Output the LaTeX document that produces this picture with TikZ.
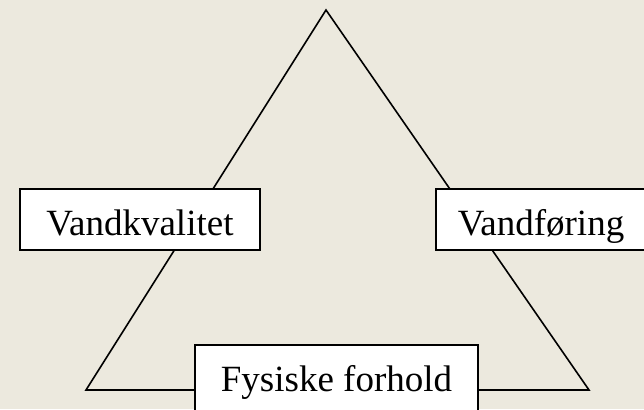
\documentclass[tikz,border=0pt]{standalone}
\usepackage{fontspec}
\setmainfont{Liberation Serif}
\definecolor{bgbeige}{HTML}{ECE9DE}
\begin{document}
\begin{tikzpicture}[x=1pt,y=-1pt,
  box/.style={draw=black, line width=1.8pt, fill=white, rectangle, inner sep=0pt,
    text height=36pt, text depth=5pt, font=\fontsize{37}{40}\selectfont},
  edge/.style={draw=black, line width=1.6pt, line join=miter}]
\fill[bgbeige] (0,0) rectangle (644,409);
\useasboundingbox (0,0) rectangle (644,409);
\coordinate (apex) at (326,10);
\coordinate (bl) at (86,390);
\coordinate (br) at (589,390);
\draw[edge] (apex) -- (bl) -- (br) -- cycle;
\node[box, minimum width=240pt, minimum height=61pt] (vk) at (140,219.5) {Vandkvalitet};
\node[box, minimum width=210pt, minimum height=61pt] (vf) at (541,219.5) {Vandføring};
\node[box, minimum width=283pt, minimum height=90pt, text depth=33pt] (fy) at (336.5,390) {Fysiske forhold};
\end{tikzpicture}
\end{document}
